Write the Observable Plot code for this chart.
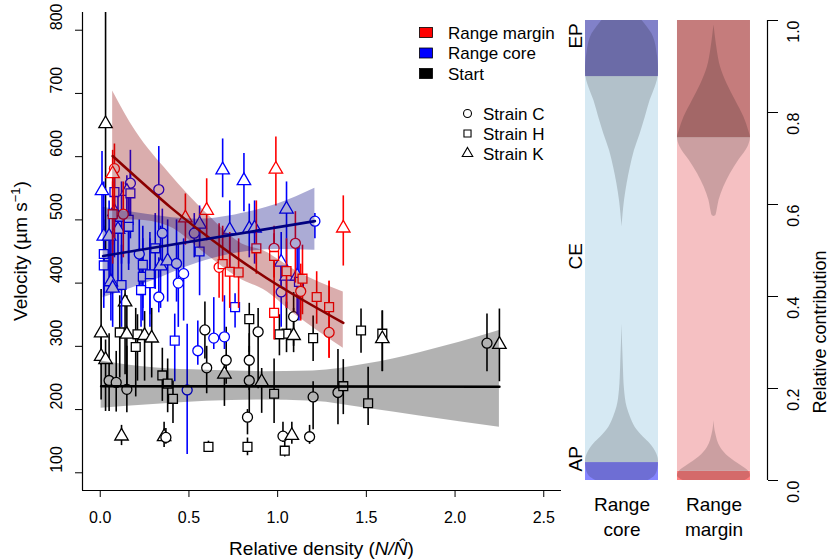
<!DOCTYPE html>
<html><head><meta charset="utf-8">
<script src="https://cdn.jsdelivr.net/npm/d3@7"></script>
<script src="https://cdn.jsdelivr.net/npm/@observablehq/plot@0.6"></script>
<style>
body{margin:0;background:#fff;}
#wrap{position:relative;width:830px;height:560px;font-family:"Liberation Sans",Arial,sans-serif;}
#wrap svg{position:absolute;top:0;overflow:visible;}
</style></head><body><div id="wrap"></div>
<script>
// ---------- data: [relative density, velocity, lower, upper, strain] ----------
const startPoints = [
[0.03,652,440,840,"K"],[0.005,321,270,390,"K"],[0.005,284,215,330,"K"],[0.03,279,197,310,"K"],
[0.05,246,197,320,"C"],[0.09,243,196,292,"C"],[0.11,322,250,380,"H"],[0.14,370,255,395,"K"],
[0.15,319,230,380,"K"],[0.15,232,195,300,"C"],[0.21,319,245,350,"H"],[0.20,299,220,360,"H"],
[0.25,317,245,355,"K"],[0.29,313,250,360,"K"],[0.35,254,213,297,"H"],[0.38,241,195,280,"H"],
[0.41,217,178,245,"H"],[0.12,158,143,175,"K"],[0.36,157,140,180,"K"],[0.37,156,145,170,"C"],
[0.59,326,280,370,"C"],[0.60,266,225,300,"C"],[0.61,141,133,150,"H"],[0.71,278,240,330,"C"],
[0.70,256,205,280,"K"],[0.84,343,290,368,"H"],[0.89,323,233,360,"C"],[0.84,278,230,320,"C"],
[0.84,246,180,300,"C"],[0.91,244,194,265,"K"],[0.83,188,160,200,"C"],[0.83,141,127,155,"H"],
[0.98,225,178,280,"H"],[1.09,347,300,385,"C"],[1.05,320,290,370,"H"],[1.09,317,290,360,"K"],
[1.01,319,285,350,"H"],[1.20,313,276,348,"H"],[1.20,220,168,244,"C"],[1.34,227,176,295,"C"],
[1.03,158,148,180,"C"],[1.08,159,145,180,"K"],[1.04,135,125,150,"H"],[1.18,157,145,175,"C"],
[1.37,237,192,279,"H"],[1.51,210,175,267,"H"],[1.47,325,289,359,"H"],[1.59,320,260,356,"H"],
[1.59,312,260,356,"K"],[2.18,305,260,351,"C"],[2.25,303,244,359,"K"]
];
const corePoints = [
[0.01,546,467,608,"K"],[0.69,579,535,628,"K"],[0.81,562,513,605,"K"],[0.17,558,470,610,"C"],
[0.33,548,478,616,"C"],[1.05,517,470,560,"K"],[1.21,498,470,510,"C"],[0.15,545,480,570,"K"],
[0.08,544,470,580,"H"],[0.17,542,480,575,"H"],[0.08,513,440,570,"K"],[0.12,504,430,560,"K"],
[0.16,500,430,560,"H"],[0.10,485,400,540,"K"],[0.16,489,420,540,"H"],[0.02,474,380,560,"K"],
[0.05,474,390,530,"K"],[0.35,479,420,517,"C"],[0.56,493,467,522,"K"],[0.53,479,440,510,"C"],
[0.73,484,424,530,"K"],[0.84,486,440,525,"K"],[0.87,487,430,530,"K"],[0.02,446,380,500,"H"],
[0.02,428,360,490,"H"],[0.31,455,390,510,"H"],[0.22,446,380,500,"C"],[0.24,429,360,490,"H"],
[0.24,410,340,470,"H"],[0.28,414,350,480,"H"],[0.28,400,330,470,"H"],[0.23,389,330,450,"H"],
[0.12,397,330,460,"H"],[0.06,402,340,480,"K"],[0.07,392,330,470,"K"],[0.34,427,360,490,"K"],
[0.38,435,370,500,"K"],[0.33,378,353,440,"C"],[0.43,431,370,500,"C"],[0.47,415,340,470,"C"],
[0.44,400,330,460,"C"],[0.56,450,380,500,"H"],[0.42,309,244,351,"H"],[0.55,293,270,340,"C"],
[0.64,313,295,377,"C"],[0.70,315,295,380,"C"],[0.49,231,129,335,"C"],[0.76,362,329,383,"H"],
[1.02,433,380,480,"K"],[1.05,411,360,470,"K"],[1.11,411,350,470,"K"],[1.02,386,330,440,"C"],
[1.12,402,340,460,"H"]
];
const marginPoints = [
[0.08,581,470,620,"C"],[0.07,573,460,610,"K"],[0.99,580,522,631,"K"],[0.60,515,467,565,"K"],
[0.48,503,460,541,"K"],[0.07,509,430,560,"H"],[0.13,509,440,560,"C"],[1.10,463,400,513,"C"],
[0.98,455,408,478,"C"],[0.88,455,414,530,"H"],[0.67,425,376,494,"C"],[0.69,430,370,490,"H"],
[0.73,418,360,480,"H"],[0.78,417,360,470,"H"],[0.98,443,400,490,"H"],[0.98,353,310,400,"H"],
[1.22,378,335,418,"H"],[1.13,387,340,430,"C"],[1.05,419,360,470,"H"],[1.37,487,427,538,"K"],
[1.14,407,350,460,"H"],[1.29,362,281,403,"H"],[1.29,322,281,403,"C"]
];
// fitted lines and confidence bands
const marginFit = [[0.07,601],[0.4,519],[0.7,454],[1.0,397],[1.37,337]];
const coreFit = [[0.016,443],[1.21,498]];
const startFit = [[0.005,237],[2.25,236]];
const marginBandX = [0.07,0.2,0.385,0.6,0.8,0.92,1.1,1.37];
const marginBandLo = [500,500,490,445,405,390,350,297];
const marginBandHi = [704,640,575,510,462,451,420,386];
const coreBandX = [0.016,0.26,0.55,0.83,1.0,1.21];
const coreBandLo = [377,400,432,450,453,452];
const coreBandHi = [520,509,501,512,525,550];
const startBandX = [0.005,0.3,0.6,0.9,1.2,1.5,1.8,2.25];
const startBandLo = [202,208,213,215,213,202,190,172];
const startBandHi = [277,266,262,260,261,272,290,325];
// axes
const xDomain = [-0.1, 2.6];
const yDomain = [72, 828];
const xTicks = [0,0.5,1,1.5,2,2.5];
const yTicks = [100,200,300,400,500,600,700,800];
const groupNames = ["Range margin","Range core","Start"];
const strainKeys = ["C","H","K"];
const strainNames = ["Strain C","Strain H","Strain K"];

// right panel: relative contributions
const barGroups = ["Range core","Range margin"];
const apTop = [0.039, 0.02];
const epBottom = [0.878, 0.745];
const segNames = ["AP","CE","EP"];
const rightTicks = [0,0.2,0.4,0.6,0.8,1.0];
// violin half-widths (fraction of bar width) read at given contributions
const coreAPViolin = [[0,0.72],[0.01,0.9],[0.025,0.98],[0.043,1],[0.058,0.95],[0.08,0.77],[0.094,0.59],[0.116,0.36],[0.138,0.23],[0.159,0.14],[0.196,0.07],[0.254,0.035],[0.34,0]];
const coreEPViolin = [[1,0.55],[0.985,0.7],[0.971,0.82],[0.955,0.9],[0.935,0.95],[0.91,0.99],[0.89,1],[0.87,0.97],[0.855,0.91],[0.826,0.77],[0.79,0.64],[0.754,0.5],[0.717,0.34],[0.681,0.23],[0.645,0.14],[0.609,0.07],[0.58,0.03],[0.551,0]];
const marginEPViolin = [[0.99,0],[0.97,0.03],[0.935,0.09],[0.899,0.18],[0.862,0.36],[0.826,0.59],[0.79,0.82],[0.761,0.95],[0.745,1],[0.725,0.93],[0.696,0.68],[0.667,0.45],[0.638,0.27],[0.609,0.14],[0.585,0.08],[0.576,0.05],[0.574,0]];
const marginAPViolin = [[0,0.85],[0.01,1],[0.02,0.95],[0.033,0.73],[0.051,0.41],[0.072,0.18],[0.101,0.05],[0.13,0]];

// ---------- drawing ----------
const FONT = "Liberation Sans, Arial, Helvetica, sans-serif";
const groupColor = {"Range margin":"#ff0000","Range core":"#0000ff","Start":"#000000"};
const toRows = (arr, group) => arr.map(([x,y,lo,hi,s]) => ({x,y,lo,hi,strain:s,group}));
const groupsData = [toRows(startPoints,"Start"), toRows(corePoints,"Range core"), toRows(marginPoints,"Range margin")];
const band = (xs, lo, hi) => xs.map((x,i)=>({x, lo:lo[i], hi:hi[i]}));
const fit = pts => pts.map(([x,y])=>({x,y}));

const pointMarks = groupsData.flatMap(rows => [
  Plot.ruleX(rows, {x:"x", y1:"lo", y2:"hi", stroke: d=>groupColor[d.group], strokeWidth:1.6, clip:true}),
  Plot.dot(rows, {x:"x", y:"y", symbol:"strain", r:5, stroke: d=>groupColor[d.group], fill:"white", strokeWidth:1.3})
]);

const left = Plot.plot({
  width: 562, height: 560, marginLeft: 82, marginRight: 1, marginTop: 12, marginBottom: 70,
  style: {fontFamily: FONT, fontSize: "16px", background: "transparent", color: "black"},
  x: {domain: xDomain},
  y: {domain: yDomain},
  symbol: {domain: strainKeys, range: ["circle","square","triangle"]},
  marks: [
    ...pointMarks,
    Plot.areaY(band(marginBandX, marginBandLo, marginBandHi), {x:"x", y1:"lo", y2:"hi", fill:"#8b0000", fillOpacity:0.32, curve:"monotone-x"}),
    Plot.areaY(band(coreBandX, coreBandLo, coreBandHi), {x:"x", y1:"lo", y2:"hi", fill:"#000080", fillOpacity:0.33, curve:"monotone-x"}),
    Plot.areaY(band(startBandX, startBandLo, startBandHi), {x:"x", y1:"lo", y2:"hi", fill:"#000000", fillOpacity:0.3, curve:"monotone-x"}),
    Plot.line(fit(marginFit), {x:"x", y:"y", stroke:"#8b0000", strokeWidth:2.6, curve:"natural"}),
    Plot.line(fit(coreFit), {x:"x", y:"y", stroke:"#000080", strokeWidth:2.6}),
    Plot.line(fit(startFit), {x:"x", y:"y", stroke:"#000000", strokeWidth:2.6}),
    Plot.ruleX([xDomain[0]], {stroke:"black", strokeWidth:1.2}),
    Plot.ruleY([yDomain[0]], {stroke:"black", strokeWidth:1.2}),
    Plot.axisX({ticks: xTicks, tickFormat: d3.format(".1f"), tickSize: 7, tickPadding: 14, label: null, fontSize: 16}),
    Plot.axisY({ticks: yTicks, tickSize: 7, tickFormat: () => "", label: null}),
    Plot.text(yTicks, {y: d=>d, text: d=>String(d), frameAnchor:"left", dx:-26, rotate:-90, fontSize:16})
  ]
});
left.style.left = "0px";
document.getElementById("wrap").appendChild(left);

// titles and legend (left)
const ls = d3.select(left);
const xt = ls.append("text").attr("x", 321.5).attr("y", 555).attr("text-anchor","middle")
  .attr("font-size", 19).attr("font-family", FONT).attr("fill","black");
xt.append("tspan").text("Relative density (");
xt.append("tspan").attr("font-style","italic").text("N/N\u0302");
xt.append("tspan").text(")");
const yt = ls.append("text").attr("transform","translate(27,251) rotate(-90)").attr("text-anchor","middle")
  .attr("font-size", 19).attr("font-family", FONT).attr("fill","black");
yt.append("tspan").text("Velocity (\u00B5m s");
yt.append("tspan").attr("dy",-7).attr("font-size",13).text("\u22121");
yt.append("tspan").attr("dy",7).text(")");

groupNames.forEach((g,i) => {
  const cy = 32.5 + i*20.5;
  ls.append("rect").attr("x",419.5).attr("y",cy-5).attr("width",13).attr("height",10)
    .attr("fill",groupColor[g]).attr("stroke","black").attr("stroke-width",0.8);
  ls.append("text").attr("x",448).attr("y",cy+6).attr("text-anchor","start")
    .attr("font-size",17).attr("font-family",FONT).attr("fill","black").text(g);
});
const legSym = [d3.symbolCircle, d3.symbolSquare, d3.symbolTriangle];
strainNames.forEach((s,i) => {
  const cy = 113.5 + i*20;
  ls.append("path").attr("d", d3.symbol(legSym[i], i===2 ? 48 : 50)())
    .attr("transform",`translate(467.5,${cy})`).attr("fill","white").attr("stroke","black").attr("stroke-width",1.1);
  ls.append("text").attr("x",483).attr("y",cy+6).attr("text-anchor","start")
    .attr("font-size",17).attr("font-family",FONT).attr("fill","black").text(s);
});

// ---------- right panel ----------
const slot = i => i*1.26;           // bar i spans [slot, slot+1]
const xMaxR = 182/73;
const segColors = [
  {AP:"#8585ff", CE:"#d6e9f3", EP:"#8181c9"},
  {AP:"#ff8080", CE:"#f5c0c2", EP:"#c57c7c"}
];
const segRows = barGroups.flatMap((g,i) => [
  {x1:slot(i), x2:slot(i)+1, y1:0, y2:apTop[i], fill:segColors[i].AP},
  {x1:slot(i), x2:slot(i)+1, y1:apTop[i], y2:epBottom[i], fill:segColors[i].CE},
  {x1:slot(i), x2:slot(i)+1, y1:epBottom[i], y2:1, fill:segColors[i].EP}
]);
const violin = (pts, i) => pts.map(([y,w]) => ({y, a: slot(i)+0.5-w/2, b: slot(i)+0.5+w/2}));
const violins = [violin(coreAPViolin,0), violin(coreEPViolin,0), violin(marginEPViolin,1), violin(marginAPViolin,1)];
const segMid = [apTop[0]/2, (apTop[0]+epBottom[0])/2, (epBottom[0]+1)/2];

const right = Plot.plot({
  width: 270, height: 560, marginLeft: 25, marginRight: 63, marginTop: 20, marginBottom: 80,
  style: {fontFamily: FONT, fontSize: "16px", background: "transparent", color: "black"},
  x: {domain: [0, xMaxR], axis: null},
  y: {domain: [0, 1]},
  marks: [
    Plot.rect(segRows, {x1:"x1", x2:"x2", y1:"y1", y2:"y2", fill: d=>d.fill}),
    ...violins.map(v => Plot.areaX(v, {y:"y", x1:"a", x2:"b", fill:"black", fillOpacity:0.17, curve:"monotone-y"})),
    Plot.ruleX([xMaxR], {y1:0, y2:1, stroke:"black", strokeWidth:1.2}),
    Plot.axisY({anchor:"right", ticks: rightTicks, tickSize: 10, tickFormat: () => "", label: null}),
    Plot.text(rightTicks, {y: d=>d, text: d3.format(".1f"), frameAnchor:"right", dx:26, rotate:-90, fontSize:16}),
    Plot.text(segNames, {y: (d,i)=>segMid[i], text: d=>d, frameAnchor:"left", dx:-10, rotate:-90, fontSize:19}),
    Plot.text(barGroups, {x: (d,i)=>slot(i)+0.5, text: d=>d.replace(" ","\n"), frameAnchor:"bottom", dy:13, lineAnchor:"top", lineHeight:1.3, fontSize:19}),
    Plot.text(["Relative contribution"], {text: d=>d, frameAnchor:"right", dx:53, rotate:-90, fontSize:18})
  ]
});
right.style.left = "560px";
document.getElementById("wrap").appendChild(right);
</script></body></html>
